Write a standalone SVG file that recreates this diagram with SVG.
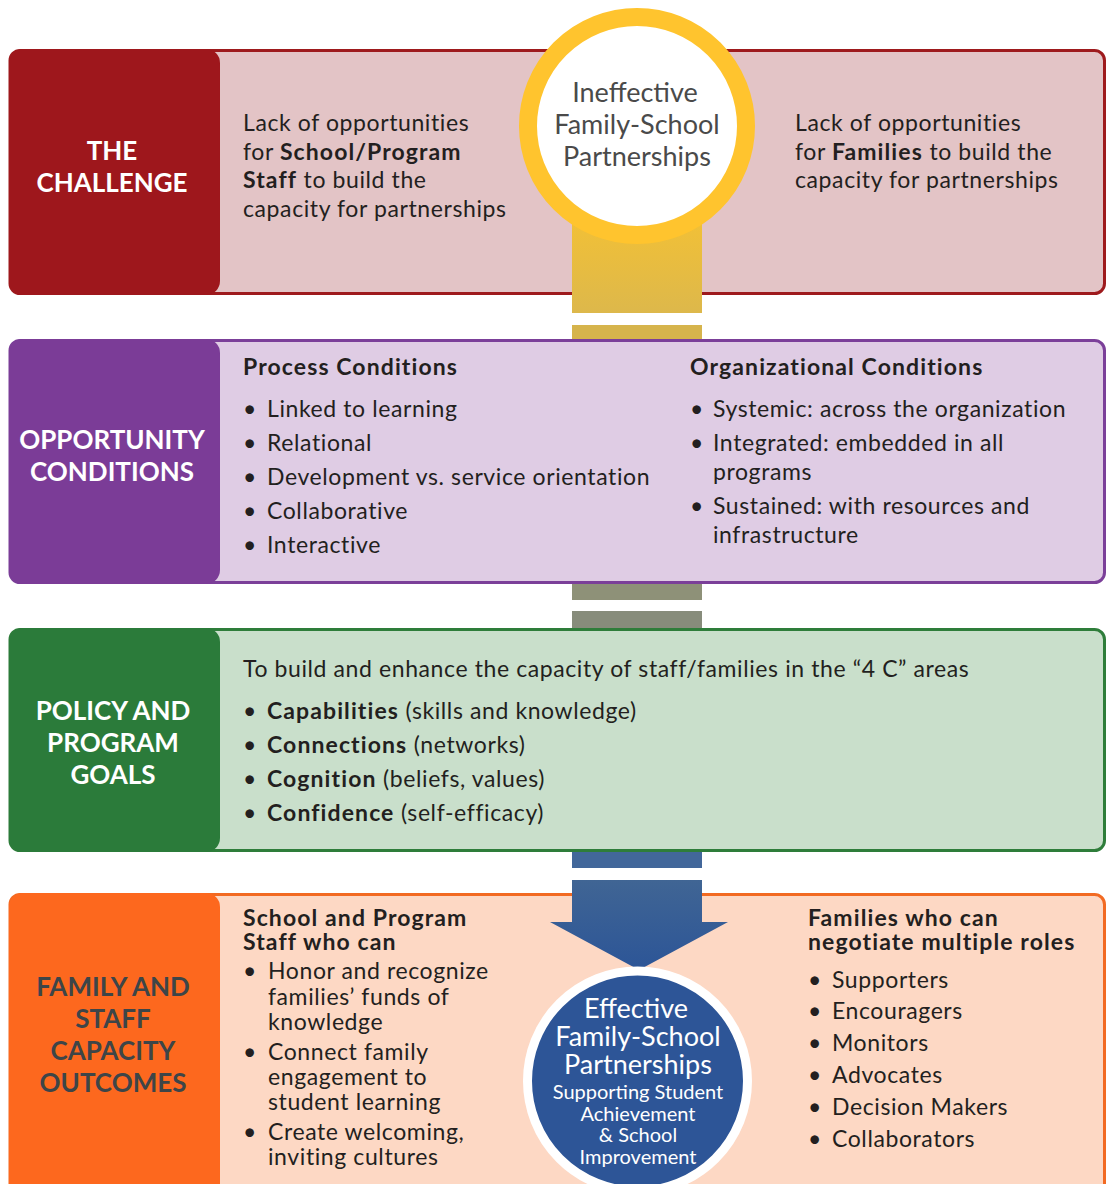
<svg xmlns="http://www.w3.org/2000/svg" width="1106" height="1184" viewBox="0 0 1106 1184">
<style>
.body{font-family:Lato,"Liberation Sans",sans-serif;font-size:23px;fill:#231f20;letter-spacing:0.6px}
.b{font-weight:700;letter-spacing:1.1px}
.lab{font-family:Lato,"Liberation Sans",sans-serif;font-size:26px;font-weight:700;fill:#ffffff;text-anchor:middle}
.labd{fill:#3d4548}
.circ{font-family:Lato,"Liberation Sans",sans-serif;text-anchor:middle}
</style>
<defs>
<linearGradient id="yg" x1="0" y1="0" x2="0" y2="1"><stop offset="0" stop-color="#f6c232"/><stop offset="1" stop-color="#ddb84b"/></linearGradient>
<linearGradient id="bg" x1="0" y1="0" x2="0" y2="1"><stop offset="0" stop-color="#406594"/><stop offset="1" stop-color="#2c5597"/></linearGradient>
</defs>

<g id="band-challenge">
<rect x="10" y="50.5" width="1094.5" height="243" rx="10" fill="#e3c4c6" stroke="#9e1a1d" stroke-width="3"/>
<rect x="9" y="49" width="211" height="246" rx="14" fill="#9e171c"/>
<text class="lab" x="112" y="160">THE</text>
<text class="lab" x="112" y="192">CHALLENGE</text>
<text class="body" x="243" y="131">Lack of opportunities</text>
<text class="body" x="243" y="160">for <tspan class="b">School/Program</tspan></text>
<text class="body" x="243" y="188"><tspan class="b">Staff</tspan> to build the</text>
<text class="body" x="243" y="217">capacity for partnerships</text>
<text class="body" x="795" y="131">Lack of opportunities</text>
<text class="body" x="795" y="160">for <tspan class="b">Families</tspan> to build the</text>
<text class="body" x="795" y="188">capacity for partnerships</text>
</g>

<g id="band-opportunity">
<rect x="10" y="340.5" width="1094.5" height="242" rx="10" fill="#dfcce4" stroke="#7b3f99" stroke-width="3"/>
<rect x="9" y="339" width="211" height="245" rx="14" fill="#7b3c97"/>
<text class="lab" x="112" y="449">OPPORTUNITY</text>
<text class="lab" x="112" y="481">CONDITIONS</text>
<text class="body b" x="243" y="375">Process Conditions</text>
<text class="body" x="243" y="417">• <tspan x="267">Linked to learning</tspan></text>
<text class="body" x="243" y="451">• <tspan x="267">Relational</tspan></text>
<text class="body" x="243" y="485">• <tspan x="267">Development vs. service orientation</tspan></text>
<text class="body" x="243" y="519">• <tspan x="267">Collaborative</tspan></text>
<text class="body" x="243" y="553">• <tspan x="267">Interactive</tspan></text>
<text class="body b" x="690" y="375">Organizational Conditions</text>
<text class="body" x="690" y="417">• <tspan x="713">Systemic: across the organization</tspan></text>
<text class="body" x="690" y="451">• <tspan x="713">Integrated: embedded in all</tspan></text>
<text class="body" x="713" y="480">programs</text>
<text class="body" x="690" y="514">• <tspan x="713">Sustained: with resources and</tspan></text>
<text class="body" x="713" y="543">infrastructure</text>
</g>

<g id="band-goals">
<rect x="10" y="629.5" width="1094.5" height="221" rx="10" fill="#c9dfcb" stroke="#2e7d3a" stroke-width="3"/>
<rect x="9" y="628" width="211" height="224" rx="14" fill="#2b7b3a"/>
<text class="lab" x="113" y="720">POLICY AND</text>
<text class="lab" x="113" y="752">PROGRAM</text>
<text class="lab" x="113" y="784">GOALS</text>
<text class="body" x="243" y="677">To build and enhance the capacity of staff/families in the “4 C” areas</text>
<text class="body" x="243" y="719">• <tspan x="267"><tspan class="b">Capabilities</tspan> (skills and knowledge)</tspan></text>
<text class="body" x="243" y="753">• <tspan x="267"><tspan class="b">Connections</tspan> (networks)</tspan></text>
<text class="body" x="243" y="787">• <tspan x="267"><tspan class="b">Cognition</tspan> (beliefs, values)</tspan></text>
<text class="body" x="243" y="821">• <tspan x="267"><tspan class="b">Confidence</tspan> (self-efficacy)</tspan></text>
</g>

<g id="band-outcomes">
<rect x="10" y="894.5" width="1094.5" height="320" rx="10" fill="#fdd8c4" stroke="#f26a22" stroke-width="3"/>
<rect x="9" y="893" width="211" height="320" rx="14" fill="#fd681e"/>
<text class="lab labd" x="113" y="996">FAMILY AND</text>
<text class="lab labd" x="113" y="1028">STAFF</text>
<text class="lab labd" x="113" y="1060">CAPACITY</text>
<text class="lab labd" x="113" y="1092">OUTCOMES</text>
<text class="body b" x="243" y="926">School and Program</text>
<text class="body b" x="243" y="950">Staff who can</text>
<text class="body" x="243" y="979">• <tspan x="268">Honor and recognize</tspan></text>
<text class="body" x="268" y="1005">families’ funds of</text>
<text class="body" x="268" y="1030">knowledge</text>
<text class="body" x="243" y="1060">• <tspan x="268">Connect family</tspan></text>
<text class="body" x="268" y="1085">engagement to</text>
<text class="body" x="268" y="1110">student learning</text>
<text class="body" x="243" y="1140">• <tspan x="268">Create welcoming,</tspan></text>
<text class="body" x="268" y="1165">inviting cultures</text>
<text class="body b" x="808" y="926">Families who can</text>
<text class="body b" x="808" y="950">negotiate multiple roles</text>
<text class="body" x="808" y="988">• <tspan x="832">Supporters</tspan></text>
<text class="body" x="808" y="1019">• <tspan x="832">Encouragers</tspan></text>
<text class="body" x="808" y="1051">• <tspan x="832">Monitors</tspan></text>
<text class="body" x="808" y="1083">• <tspan x="832">Advocates</tspan></text>
<text class="body" x="808" y="1115">• <tspan x="832">Decision Makers</tspan></text>
<text class="body" x="808" y="1147">• <tspan x="832">Collaborators</tspan></text>
</g>

<g id="connectors">
<rect x="572" y="200" width="130" height="113" fill="url(#yg)"/>
<rect x="572" y="325" width="130" height="14" fill="#d6b44c"/>
<rect x="572" y="584" width="130" height="16" fill="#8e9178"/>
<rect x="572" y="611" width="130" height="17" fill="#878c7b"/>
<rect x="572" y="852" width="130" height="16" fill="#42679a"/>
<path d="M572,880 H702 V922 H728 L639,970 L550,922 H572 Z" fill="url(#bg)"/>
</g>

<g id="node-ineffective">
<circle cx="637" cy="126" r="109" fill="#ffffff" stroke="#ffc42e" stroke-width="18"/>
<text class="circ" x="635" y="102" font-size="27" fill="#4a4a4a">Ineffective</text>
<text class="circ" x="637" y="134" font-size="27" fill="#4a4a4a">Family-School</text>
<text class="circ" x="637" y="166" font-size="27" fill="#4a4a4a">Partnerships</text>
</g>

<g id="node-effective">
<circle cx="637.5" cy="1081" r="110" fill="#2d5597" stroke="#ffffff" stroke-width="9"/>
<text class="circ" x="636" y="1018" font-size="27" fill="#ffffff">Effective</text>
<text class="circ" x="638" y="1046" font-size="27" fill="#ffffff">Family-School</text>
<text class="circ" x="638" y="1074" font-size="27" fill="#ffffff">Partnerships</text>
<text class="circ" x="638" y="1099" font-size="20" fill="#ffffff">Supporting Student</text>
<text class="circ" x="638" y="1121" font-size="20" fill="#ffffff">Achievement</text>
<text class="circ" x="638" y="1142" font-size="20" fill="#ffffff">&amp; School</text>
<text class="circ" x="638" y="1164" font-size="20" fill="#ffffff">Improvement</text>
</g>
</svg>
